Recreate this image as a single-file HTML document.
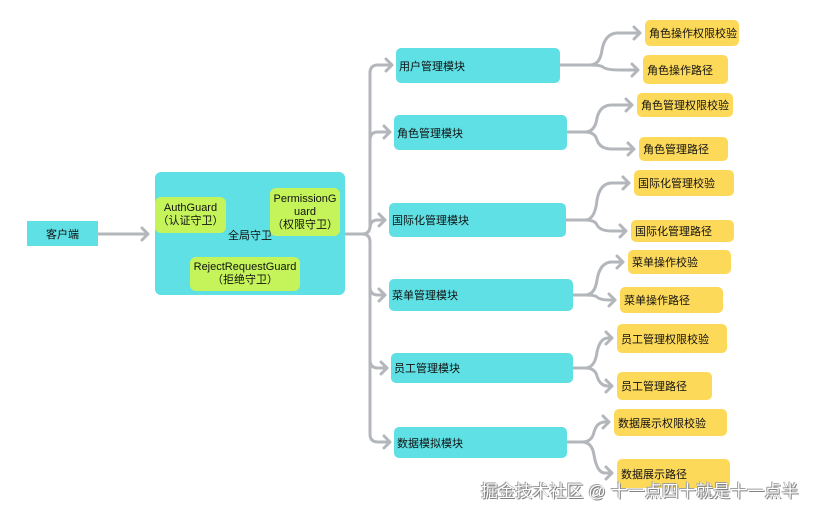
<!DOCTYPE html>
<html><head><meta charset="utf-8"><style>
html,body{margin:0;padding:0;background:#fff;}
body{width:814px;height:512px;position:relative;overflow:hidden;font-family:"Liberation Sans","Noto Sans CJK SC",sans-serif;}
.b{position:absolute;box-sizing:border-box;display:flex;align-items:center;font-size:11px;color:#111;}
.c{background:#5ee0e4;border-radius:5px;padding-left:3px;}
.y{background:#fdd95a;border-radius:5px;padding-left:4px;}
.g{background:#c4f45a;border-radius:6px;justify-content:center;text-align:center;line-height:13px;font-size:11px;}
.wm{position:absolute;left:481px;top:477px;font-size:17px;color:#fff;letter-spacing:0.1px;text-shadow:0 0 1px #666,1px 1px 0 #888,-1px -1px 0 #aaa;white-space:nowrap;}
svg{position:absolute;left:0;top:0;}
</style></head><body>
<svg width="814" height="512" fill="none" stroke="#b3b7bb" stroke-width="3" stroke-linecap="round" stroke-linejoin="round">
<path d="M98 234 H148 M142 228 L148 234 L142 240"/>
<path d="M345 234 H362 Q370 234 370 226 V73 Q370 65 378 65 H392 M386 59 L392 65 L386 71"/>
<path d="M362 234 Q370 234 370 242 V434 Q370 442 378 442 H390 M384 436 L390 442 L384 448"/>
<path d="M370 140 Q370 132 378 132 H390 M384 126 L390 132 L384 138"/>
<path d="M370 228 Q370 220 378 220 H385 M379 214 L385 220 L379 226"/>
<path d="M370 287 Q370 295 378 295 H385 M379 289 L385 295 L379 301"/>
<path d="M370 360 Q370 368 378 368 H387 M381 362 L387 368 L381 374"/>
<g>
<path d="M560 65 H590 Q600 65 602 50 Q605 33 618 33 H640 M634 27 L640 33 L634 39"/>
<path d="M590 65 Q600 65 603 67 Q606 70 620 70 H638 M632 64 L638 70 L632 76"/>
<path d="M567 132 H585 Q595 132 597 118 Q600 105 612 105 H632 M626 99 L632 105 L626 111"/>
<path d="M585 132 Q595 132 597 140 Q600 149 612 149 H634 M628 143 L634 149 L628 155"/>
<path d="M566 220 H585 Q595 220 597 200 Q600 183 612 183 H629 M623 177 L629 183 L623 189"/>
<path d="M585 220 Q595 220 597 225 Q600 231 612 231 H626 M620 225 L626 231 L620 237"/>
<path d="M573 295 H585 Q595 295 597 280 Q600 262 612 262 H623 M617 256 L623 262 L617 268"/>
<path d="M585 295 Q595 295 597 297 Q600 300 610 300 H615 M609 294 L615 300 L609 306"/>
<path d="M573 368 H585 Q595 368 597 352 Q600 338 608 338 H612 M606 332 L612 338 L606 344"/>
<path d="M585 368 Q595 368 597 376 Q600 386 608 386 H612 M606 380 L612 386 L606 392"/>
<path d="M567 442 H582 Q592 442 594 432 Q597 422 605 422 H609 M603 416 L609 422 L603 428"/>
<path d="M582 442 Q592 442 594 455 Q597 473 605 473 H612 M606 467 L612 473 L606 479"/>
</g>
</svg>
<div class="b c" style="left:27px;top:221px;width:71px;height:25px;justify-content:center;padding:0;border-radius:0;">客户端</div>
<div class="b" style="left:155px;top:172px;width:190px;height:123px;background:#5ee0e4;border-radius:6px;"></div>
<div class="b" style="left:228px;top:227px;font-size:11px;">全局守卫</div>
<div class="b g" style="left:155px;top:197px;width:71px;height:36px;">AuthGuard<br>（认证守卫）</div>
<div class="b g" style="left:270px;top:188px;width:70px;height:48px;">PermissionG<br>uard<br>（权限守卫）</div>
<div class="b g" style="left:190px;top:257px;width:110px;height:34px;">RejectRequestGuard<br>（拒绝守卫）</div>
<div class="b c" style="left:396px;top:48px;width:164px;height:35px;">用户管理模块</div>
<div class="b c" style="left:394px;top:115px;width:173px;height:35px;">角色管理模块</div>
<div class="b c" style="left:389px;top:203px;width:177px;height:34px;">国际化管理模块</div>
<div class="b c" style="left:389px;top:279px;width:184px;height:32px;">菜单管理模块</div>
<div class="b c" style="left:391px;top:353px;width:182px;height:30px;">员工管理模块</div>
<div class="b c" style="left:394px;top:427px;width:173px;height:31px;">数据模拟模块</div>
<div class="b y" style="left:645px;top:20px;width:94px;height:26px;">角色操作权限校验</div>
<div class="b y" style="left:643px;top:55px;width:85px;height:29px;">角色操作路径</div>
<div class="b y" style="left:637px;top:93px;width:96px;height:24px;">角色管理权限校验</div>
<div class="b y" style="left:639px;top:137px;width:89px;height:24px;">角色管理路径</div>
<div class="b y" style="left:634px;top:170px;width:100px;height:26px;">国际化管理校验</div>
<div class="b y" style="left:631px;top:220px;width:103px;height:22px;">国际化管理路径</div>
<div class="b y" style="left:628px;top:250px;width:103px;height:24px;">菜单操作校验</div>
<div class="b y" style="left:620px;top:287px;width:103px;height:26px;">菜单操作路径</div>
<div class="b y" style="left:617px;top:324px;width:110px;height:29px;">员工管理权限校验</div>
<div class="b y" style="left:617px;top:372px;width:95px;height:28px;">员工管理路径</div>
<div class="b y" style="left:614px;top:409px;width:113px;height:27px;">数据展示权限校验</div>
<div class="b y" style="left:617px;top:459px;width:113px;height:29px;">数据展示路径</div>
<div class="wm">掘金技术社区 @ 十一点四十就是十一点半</div>
</body></html>
